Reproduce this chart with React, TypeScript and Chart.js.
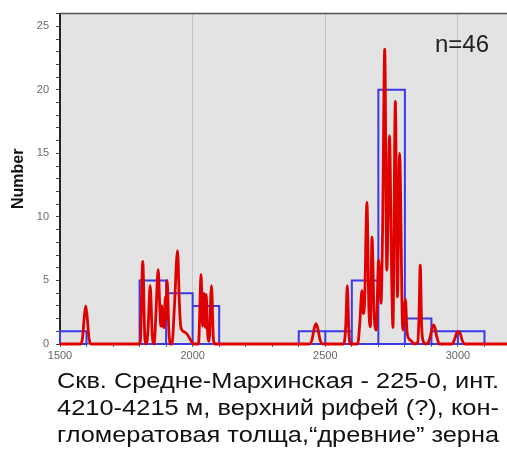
import { useEffect, useLayoutEffect, useRef } from 'react';
import { Chart, registerables } from 'chart.js';

Chart.register(...registerables);

// Age histogram: bins of 100 Ma, start of each bin and its count
const binStarts = [1500, 1800, 1900, 2000, 2400, 2500, 2600, 2700, 2800, 2900, 3000];
const binCounts = [1, 5, 4, 3, 1, 1, 5, 20, 2, 1, 1];
const binWidth = 100;

// Probability density curve (red), x in Ma
const densityX = [
  1500, 1578, 1585, 1591, 1597, 1603, 1609, 1616,
  1802, 1812, 1820, 1826, 1832, 1840, 1848, 1855, 1862, 1870, 1876, 1880, 1884, 1888, 1893, 1897, 1900, 1904,
  1910, 1916, 1922, 1931, 1943, 1950, 1955, 1965, 1978, 1990, 2003,
  2022, 2032, 2037, 2043, 2047, 2051, 2056, 2062, 2071, 2078, 2084,
  2440, 2450, 2458, 2465, 2472, 2480, 2490,
  2570, 2577, 2583, 2589, 2595,
  2622, 2630, 2638, 2643, 2648, 2657, 2664, 2670, 2676, 2684, 2692, 2701, 2710, 2716, 2724, 2732, 2742, 2750,
  2755, 2764, 2772, 2780, 2792, 2802, 2808, 2816, 2826, 2836,
  2848, 2853, 2858, 2863, 2868, 2878, 2890, 2898, 2904, 2908, 2913, 2920, 2930,
  2978, 2988, 2995, 3002, 3009, 3016, 3026, 3200,
];
const densityY = [
  0, 0, 0.5, 2.0, 3.0, 2.0, 0.5, 0,
  0, 6.5, 0.4, 0, 1.2, 4.6, 0.6, 0, 2.6, 5.85, 3.0, 1.4, 3.0, 1.4, 1.3, 3.7, 2.0, 5.0,
  1.2, 0, 0, 2.8, 7.35, 3.2, 1.4, 1.0, 0.8, 0.4, 0,
  0, 5.45, 1.4, 4.0, 1.3, 3.9, 1.0, 0.2, 4.6, 0.5, 0,
  0, 0.35, 1.2, 1.6, 1.2, 0.35, 0,
  0, 1.4, 4.6, 0.9, 0,
  0, 1.6, 4.2, 2.4, 3.2, 11.15, 3.0, 1.35, 8.4, 2.4, 1.1, 6.6, 3.2, 9.0, 23.2, 5.8, 16.4, 5.5,
  1.3, 19.1, 3.7, 15.0, 1.1, 3.5, 1.0, 0.4, 0.2, 0,
  0.1, 2.0, 6.2, 1.5, 0.3, 0, 0.2, 0.8, 1.35, 1.5, 1.3, 0.6, 0,
  0, 0.4, 0.85, 1.0, 0.8, 0.3, 0, 0,
];

const xTickLabels = [1500, 2000, 2500, 3000];
const yTickLabels = [0, 5, 10, 15, 20, 25];
const sampleLabel = 'n=46';
const yTitle = 'Number';
const captionLines = [
  'Скв. Средне-Мархинская - 225-0, инт.',
  '4210-4215 м, верхний рифей (?), кон-',
  'гломератовая толща,“древние” зерна',
];

const FONT = '"Liberation Sans", Arial, sans-serif';
const CAPTION_WIDTH = 442;

// Plot background and top frame line
const framePlugin = {
  id: 'frame',
  beforeDraw(chart: any) {
    const { ctx, chartArea } = chart;
    ctx.save();
    ctx.fillStyle = '#e3e3e3';
    ctx.fillRect(chartArea.left, chartArea.top, chartArea.right - chartArea.left, chartArea.bottom - chartArea.top);
    ctx.restore();
  },
  afterDraw(chart: any) {
    const { ctx, chartArea } = chart;
    ctx.save();
    ctx.strokeStyle = '#555555';
    ctx.lineWidth = 1.5;
    ctx.beginPath();
    ctx.moveTo(chartArea.left, chartArea.top);
    ctx.lineTo(chartArea.right + 5, chartArea.top);
    ctx.stroke();
    ctx.restore();
  },
};

function buildHistogramOutline() {
  const pts: { x: number; y: number | null }[] = [];
  binStarts.forEach((s, i) => {
    const e = s + binWidth;
    const c = binCounts[i];
    pts.push({ x: s, y: 0 }, { x: s, y: c }, { x: e, y: c }, { x: e, y: 0 }, { x: s, y: 0 }, { x: s, y: null });
  });
  return pts;
}

function AgeChart() {
  const canvasRef = useRef<HTMLCanvasElement | null>(null);

  useEffect(() => {
    if (!canvasRef.current) return;
    Chart.defaults.font.family = FONT;
    const chart = new Chart(canvasRef.current, {
      type: 'line',
      data: {
        datasets: [
          {
            label: 'density',
            data: densityX.map((x, i) => ({ x, y: densityY[i] })),
            borderColor: '#e00000',
            borderWidth: 2.8,
            pointRadius: 0,
            cubicInterpolationMode: 'monotone',
            fill: false,
            clip: 6,
            order: 0,
          },
          {
            label: 'histogram',
            data: buildHistogramOutline(),
            borderColor: '#3a3ae6',
            borderWidth: 2,
            pointRadius: 0,
            tension: 0,
            spanGaps: false,
            fill: false,
            clip: 6,
            order: 1,
          },
        ],
      },
      options: {
        responsive: false,
        animation: false,
        layout: { padding: { left: 0, top: 12, right: 9, bottom: 0 } },
        plugins: { legend: { display: false }, tooltip: { enabled: false } },
        scales: {
          x: {
            type: 'linear',
            min: 1500,
            max: 3200,
            afterFit: (scale: any) => {
              scale.height = 26;
            },
            ticks: {
              stepSize: 100,
              autoSkip: false,
              maxRotation: 0,
              padding: 2,
              color: '#666666',
              font: { size: 11 },
              callback: (v: any) => (xTickLabels.includes(Number(v)) ? String(v) : ''),
            },
            grid: {
              color: (ctx: any) =>
                ctx.tick && xTickLabels.includes(ctx.tick.value) && ctx.tick.value !== 1500 ? '#c4c4c4' : 'rgba(0,0,0,0)',
              tickColor: '#666666',
              tickLength: 3,
              lineWidth: 1,
            },
            border: { color: '#555555', width: 1.5 },
          },
          y: {
            type: 'linear',
            min: 0,
            max: 26,
            afterFit: (scale: any) => {
              scale.width = 60;
            },
            ticks: {
              stepSize: 1,
              autoSkip: false,
              padding: 7,
              color: '#6a6a6a',
              font: { size: 11 },
              callback: (v: any) => (yTickLabels.includes(Number(v)) ? String(v) : ''),
            },
            grid: {
              drawOnChartArea: false,
              tickColor: '#444444',
              tickLength: 4,
            },
            border: { color: '#222222', width: 2 },
            title: {
              display: true,
              text: yTitle,
              color: '#111111',
              font: { size: 16, weight: 'bold' },
              padding: { top: 9, bottom: 0 },
            },
          },
        },
      },
      plugins: [framePlugin],
    } as any);
    return () => chart.destroy();
  }, []);

  return (
    <canvas
      ref={canvasRef}
      width={520}
      height={370}
      style={{ position: 'absolute', left: 0, top: 0, width: 520, height: 370, display: 'block' }}
    />
  );
}

// One caption line, stretched horizontally to the caption width
function CaptionLine({ text }: { text: string }) {
  const ref = useRef<HTMLSpanElement | null>(null);
  useLayoutEffect(() => {
    const el = ref.current;
    if (!el) return;
    el.style.transform = 'none';
    const w = el.getBoundingClientRect().width;
    if (w > 0) el.style.transform = `scaleX(${CAPTION_WIDTH / w})`;
  }, [text]);
  return (
    <div style={{ height: 27, whiteSpace: 'nowrap' }}>
      <span ref={ref} style={{ display: 'inline-block', transformOrigin: '0 0' }}>
        {text}
      </span>
    </div>
  );
}

export default function App() {
  return (
    <div
      style={{
        position: 'absolute',
        left: 0,
        top: 0,
        width: 507,
        height: 453,
        overflow: 'hidden',
        background: '#ffffff',
        fontFamily: FONT,
      }}
    >
      <AgeChart />
      <div
        style={{
          position: 'absolute',
          left: 435,
          top: 32,
          fontSize: 24,
          lineHeight: '24px',
          color: '#222222',
        }}
      >
        {sampleLabel}
      </div>
      <div
        style={{
          position: 'absolute',
          left: 57,
          top: 367,
          width: CAPTION_WIDTH,
          fontSize: 22,
          lineHeight: '27px',
          color: '#111111',
        }}
      >
        {captionLines.map((line) => (
          <CaptionLine key={line} text={line} />
        ))}
      </div>
    </div>
  );
}
